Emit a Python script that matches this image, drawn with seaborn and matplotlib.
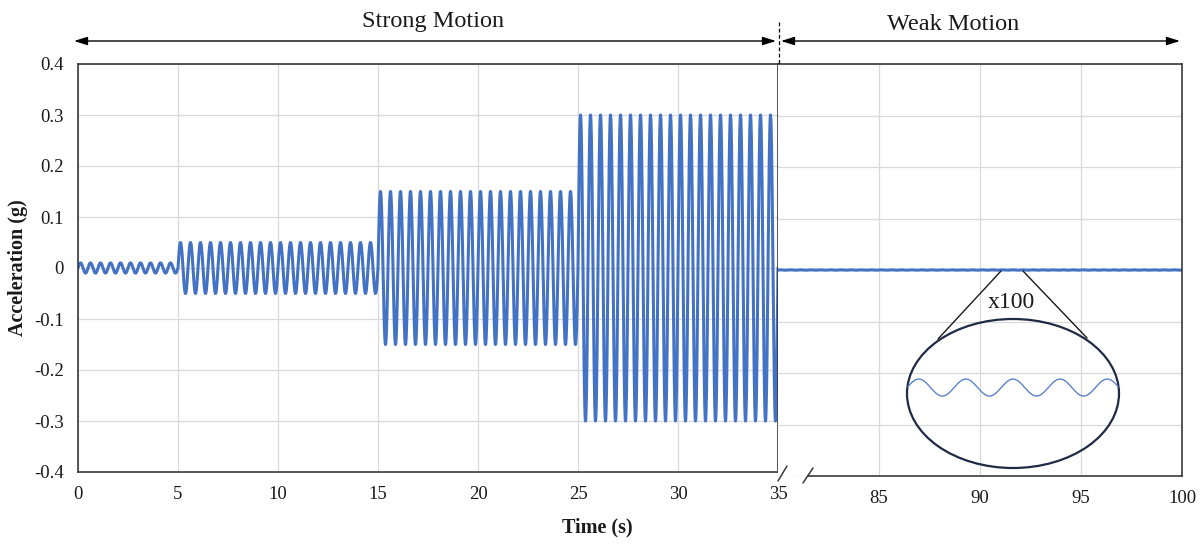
import numpy as np
import pandas as pd
import matplotlib
matplotlib.use("Agg")
import matplotlib.pyplot as plt
from matplotlib.patches import Ellipse, FancyArrowPatch
from matplotlib.lines import Line2D
import seaborn as sns

# ---- signal description -------------------------------------------------
segment_starts = [0, 5, 15, 25]          # s
segment_ends = [5, 15, 25, 35]           # s
segment_amplitudes = [0.01, 0.05, 0.15, 0.30]   # g
frequency_hz = 2.0

weak_start, weak_end = 80, 100           # s
weak_amplitude = 0.0003                  # g
magnification = 100
zoom_window = [80, 82.25]                # s shown in the magnified bubble

left_xticks = [0, 5, 10, 15, 20, 25, 30, 35]
right_xticks = [85, 90, 95, 100]
yticks = [-0.4, -0.3, -0.2, -0.1, 0, 0.1, 0.2, 0.3, 0.4]
ytick_labels = ["-0.4", "-0.3", "-0.2", "-0.1", "0", "0.1", "0.2", "0.3", "0.4"]

# ---- build the records -------------------------------------------------
t_strong = np.linspace(segment_starts[0], segment_ends[-1], 35 * 200 + 1)
amp = np.zeros_like(t_strong)
for s, e, a in zip(segment_starts, segment_ends, segment_amplitudes):
    amp[(t_strong >= s) & (t_strong <= e)] = a
strong = pd.DataFrame({"time": t_strong,
                       "acc": amp * np.sin(2 * np.pi * frequency_hz * t_strong)})

t_weak = np.linspace(weak_start, weak_end, 20 * 200 + 1)
weak = pd.DataFrame({"time": t_weak,
                     "acc": weak_amplitude * np.sin(2 * np.pi * frequency_hz * t_weak)})

t_zoom = np.linspace(zoom_window[0], zoom_window[1], 600)
zoomed = pd.DataFrame({"time": t_zoom,
                       "acc": magnification * weak_amplitude
                       * np.sin(2 * np.pi * frequency_hz * t_zoom)})

# ---- style ---------------------------------------------------------------
sns.set_theme(style="whitegrid")
plt.rcParams["font.family"] = ["Liberation Serif", "DejaVu Serif"]
plt.rcParams["axes.unicode_minus"] = False

W, H = 1204, 544
fig = plt.figure(figsize=(W / 100, H / 100), dpi=100)
fig.patch.set_facecolor("white")


def fx(x):
    return x / W


def fy(y):
    return 1 - y / H


BLUE = "#4472C4"
SPINE = "#3a3a3a"
GRID = "#d9d9d9"
TXT = "#1a1a1a"

ax1 = fig.add_axes([fx(78), fy(472), 700 / W, 408 / H])
ax2 = fig.add_axes([fx(778), fy(476), 404 / W, 412 / H])

sns.lineplot(data=strong, x="time", y="acc", ax=ax1, color=BLUE, lw=2.2,
             estimator=None, errorbar=None)
sns.lineplot(data=weak, x="time", y="acc", ax=ax2, color=BLUE, lw=2.2,
             estimator=None, errorbar=None)

for ax in (ax1, ax2):
    ax.set_facecolor("white")
    ax.set_ylim(-0.4, 0.4)
    ax.set_yticks(yticks)
    ax.grid(True, color=GRID, lw=0.9)
    ax.set_xlabel("")
    ax.set_ylabel("")
    ax.tick_params(length=0, labelsize=13.5, colors=TXT, pad=10)
    for sp in ax.spines.values():
        sp.set_color(SPINE)
        sp.set_linewidth(1.2)

ax1.set_xlim(0, 35)
ax1.set_xticks(left_xticks)
ax1.set_yticklabels(ytick_labels)
ax1.tick_params(axis="y", pad=10)

ax2.set_xlim(weak_start, weak_end)
ax2.set_xticks(right_xticks)
ax2.set_yticklabels([])
ax2.spines["left"].set_visible(False)
ax2.spines["bottom"].set_bounds(81.5, 100)

# axis-break slashes
for (xa, ya), (xb, yb) in [((778, 481), (787, 466)), ((803, 483), (813, 468))]:
    fig.add_artist(Line2D([fx(xa), fx(xb)], [fy(ya), fy(yb)],
                          transform=fig.transFigure, color=SPINE, lw=1.1))

# axis titles
fig.text(fx(597), fy(527), "Time (s)", ha="center", va="center",
         fontsize=14.5, fontweight="bold", color=TXT)
fig.text(fx(18), fy(268), "Acceleration (g)", ha="center", va="center",
         rotation=90, fontsize=14.5, fontweight="bold", color=TXT)

# phase brackets above the plot
arrow_kw = dict(transform=fig.transFigure, color="black", lw=1.0,
                arrowstyle="<|-|>,head_length=0.8,head_width=0.25",
                mutation_scale=10, shrinkA=0, shrinkB=0)
fig.add_artist(FancyArrowPatch((fx(74), fy(41)), (fx(776), fy(41)), **arrow_kw))
fig.add_artist(FancyArrowPatch((fx(781), fy(41)), (fx(1180), fy(41)), **arrow_kw))
fig.add_artist(Line2D([fx(779), fx(779)], [fy(22), fy(64)],
                      transform=fig.transFigure, color="black", lw=0.9,
                      ls=(0, (3, 2))))
fig.text(fx(433), fy(21), "Strong Motion", ha="center", va="center",
         fontsize=17.5, color=TXT)
fig.text(fx(953), fy(24), "Weak Motion", ha="center", va="center",
         fontsize=17.5, color=TXT)

# magnified bubble of the weak-motion trace
cx, cy, ew, eh = 1013, 393.5, 212, 149
axz = fig.add_axes([fx(cx - ew / 2), fy(cy + eh / 2), ew / W, eh / H])
axz.set_axis_off()
sns.lineplot(data=zoomed, x="time", y="acc", ax=axz, color="#5b84cc", lw=1.0,
             estimator=None, errorbar=None)
axz.set_xlim(*zoom_window)
axz.set_ylim(-0.284, 0.242)
bubble = Ellipse((0.5, 0.5), 1.0, 1.0, transform=axz.transAxes,
                 facecolor="none", edgecolor="#1f2a44", lw=1.6, clip_on=False)
axz.add_patch(bubble)
axz.lines[-1].set_clip_path(bubble)

for (xa, ya), (xb, yb) in [((1001, 271), (938, 339)), ((1023, 271), (1087, 338))]:
    fig.add_artist(Line2D([fx(xa), fx(xb)], [fy(ya), fy(yb)],
                          transform=fig.transFigure, color="#1a1a1a", lw=1.0))
fig.text(fx(1011), fy(302), f"x{magnification}", ha="center", va="center",
         fontsize=17, color=TXT)

fig.savefig("out.png", dpi=100, facecolor="white")
